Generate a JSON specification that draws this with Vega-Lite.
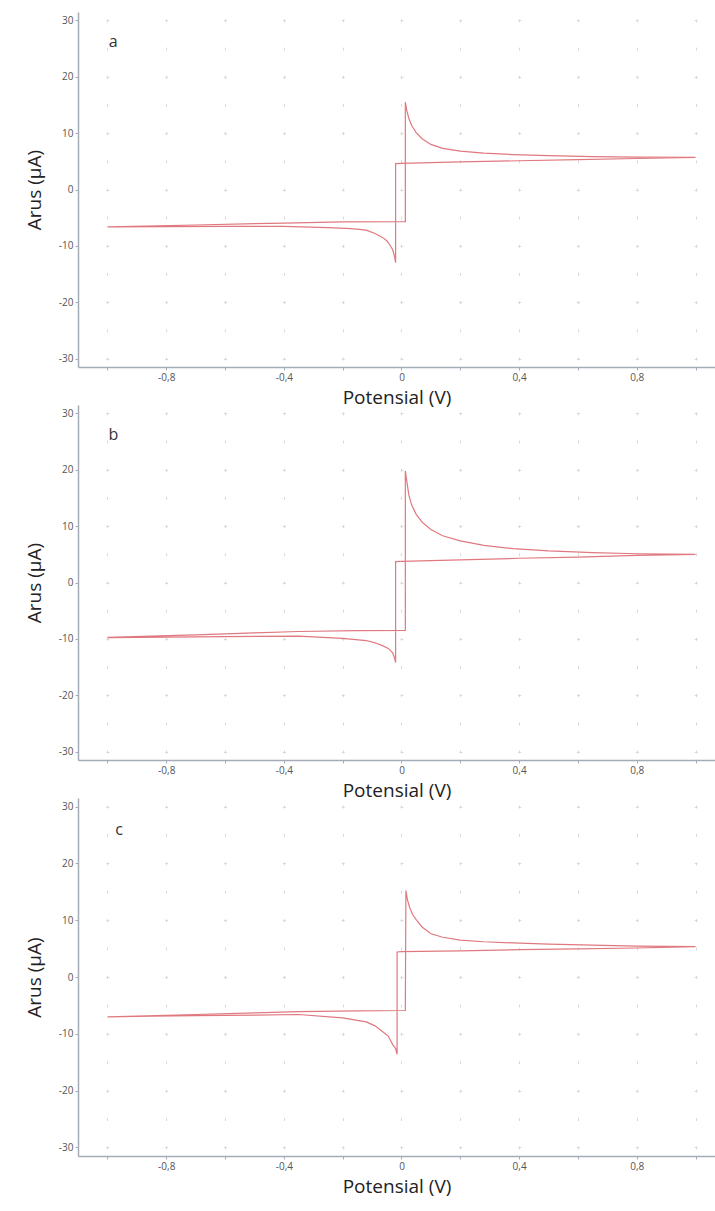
{
  "$schema": "https://vega.github.io/schema/vega-lite/v6.json",
  "padding": {"left": 25, "top": 12, "right": 0, "bottom": 2},
  "background": "white",
  "bounds": "flush",
  "spacing": 38,
  "datasets": {
    "a": [
      {"i": 0, "v": -1.0, "a": -6.65}, {"i": 1, "v": -0.7, "a": -6.3}, {"i": 2, "v": -0.4, "a": -5.95}, {"i": 3, "v": -0.2, "a": -5.75}, {"i": 4, "v": 0.013, "a": -5.7},
      {"i": 5, "v": 0.013, "a": 15.5}, {"i": 6, "v": 0.018, "a": 14.0}, {"i": 7, "v": 0.025, "a": 12.6}, {"i": 8, "v": 0.035, "a": 11.3}, {"i": 9, "v": 0.05, "a": 10.1},
      {"i": 10, "v": 0.07, "a": 9.0}, {"i": 11, "v": 0.1, "a": 8.0}, {"i": 12, "v": 0.14, "a": 7.3}, {"i": 13, "v": 0.2, "a": 6.8}, {"i": 14, "v": 0.28, "a": 6.45},
      {"i": 15, "v": 0.38, "a": 6.2}, {"i": 16, "v": 0.5, "a": 6.0}, {"i": 17, "v": 0.65, "a": 5.85}, {"i": 18, "v": 0.8, "a": 5.75}, {"i": 19, "v": 1.0, "a": 5.7},
      {"i": 20, "v": 0.8, "a": 5.5}, {"i": 21, "v": 0.6, "a": 5.3}, {"i": 22, "v": 0.4, "a": 5.1}, {"i": 23, "v": 0.2, "a": 4.9}, {"i": 24, "v": 0.0, "a": 4.65}, {"i": 25, "v": -0.02, "a": 4.6},
      {"i": 26, "v": -0.02, "a": -13.0}, {"i": 27, "v": -0.024, "a": -11.8}, {"i": 28, "v": -0.03, "a": -10.7}, {"i": 29, "v": -0.04, "a": -9.8}, {"i": 30, "v": -0.05, "a": -9.1},
      {"i": 31, "v": -0.065, "a": -8.5}, {"i": 32, "v": -0.09, "a": -7.8}, {"i": 33, "v": -0.12, "a": -7.2}, {"i": 34, "v": -0.17, "a": -6.95}, {"i": 35, "v": -0.25, "a": -6.75},
      {"i": 36, "v": -0.4, "a": -6.55}, {"i": 37, "v": -0.6, "a": -6.55}, {"i": 38, "v": -0.8, "a": -6.6}, {"i": 39, "v": -1.0, "a": -6.65}
    ],
    "b": [
      {"i": 0, "v": -1.0, "a": -9.75}, {"i": 1, "v": -0.7, "a": -9.3}, {"i": 2, "v": -0.5, "a": -8.95}, {"i": 3, "v": -0.35, "a": -8.7}, {"i": 4, "v": -0.15, "a": -8.55}, {"i": 5, "v": 0.013, "a": -8.5},
      {"i": 6, "v": 0.013, "a": 19.8}, {"i": 7, "v": 0.018, "a": 18.0}, {"i": 8, "v": 0.025, "a": 15.5}, {"i": 9, "v": 0.035, "a": 13.7}, {"i": 10, "v": 0.05, "a": 12.1},
      {"i": 11, "v": 0.07, "a": 10.7}, {"i": 12, "v": 0.1, "a": 9.4}, {"i": 13, "v": 0.14, "a": 8.3}, {"i": 14, "v": 0.2, "a": 7.4}, {"i": 15, "v": 0.28, "a": 6.6},
      {"i": 16, "v": 0.38, "a": 6.0}, {"i": 17, "v": 0.5, "a": 5.6}, {"i": 18, "v": 0.65, "a": 5.3}, {"i": 19, "v": 0.8, "a": 5.1}, {"i": 20, "v": 1.0, "a": 5.0},
      {"i": 21, "v": 0.8, "a": 4.8}, {"i": 22, "v": 0.6, "a": 4.5}, {"i": 23, "v": 0.4, "a": 4.3}, {"i": 24, "v": 0.2, "a": 4.0}, {"i": 25, "v": 0.0, "a": 3.75}, {"i": 26, "v": -0.02, "a": 3.7},
      {"i": 27, "v": -0.02, "a": -14.2}, {"i": 28, "v": -0.024, "a": -13.3}, {"i": 29, "v": -0.03, "a": -12.5}, {"i": 30, "v": -0.045, "a": -11.7}, {"i": 31, "v": -0.065, "a": -11.2},
      {"i": 32, "v": -0.09, "a": -10.7}, {"i": 33, "v": -0.12, "a": -10.3}, {"i": 34, "v": -0.2, "a": -9.9}, {"i": 35, "v": -0.35, "a": -9.5}, {"i": 36, "v": -0.6, "a": -9.6},
      {"i": 37, "v": -0.8, "a": -9.7}, {"i": 38, "v": -1.0, "a": -9.8}
    ],
    "c": [
      {"i": 0, "v": -1.0, "a": -7.0}, {"i": 1, "v": -0.7, "a": -6.6}, {"i": 2, "v": -0.5, "a": -6.3}, {"i": 3, "v": -0.35, "a": -6.1}, {"i": 4, "v": -0.15, "a": -5.95}, {"i": 5, "v": 0.013, "a": -5.9},
      {"i": 6, "v": 0.015, "a": 15.2}, {"i": 7, "v": 0.02, "a": 13.6}, {"i": 8, "v": 0.028, "a": 12.2}, {"i": 9, "v": 0.038, "a": 11.0}, {"i": 10, "v": 0.05, "a": 10.1},
      {"i": 11, "v": 0.07, "a": 8.8}, {"i": 12, "v": 0.1, "a": 7.6}, {"i": 13, "v": 0.14, "a": 7.0}, {"i": 14, "v": 0.2, "a": 6.5}, {"i": 15, "v": 0.28, "a": 6.2},
      {"i": 16, "v": 0.38, "a": 6.0}, {"i": 17, "v": 0.5, "a": 5.8}, {"i": 18, "v": 0.65, "a": 5.6}, {"i": 19, "v": 0.8, "a": 5.45}, {"i": 20, "v": 1.0, "a": 5.35},
      {"i": 21, "v": 0.8, "a": 5.1}, {"i": 22, "v": 0.6, "a": 4.95}, {"i": 23, "v": 0.4, "a": 4.8}, {"i": 24, "v": 0.2, "a": 4.6}, {"i": 25, "v": 0.0, "a": 4.45}, {"i": 26, "v": -0.015, "a": 4.4},
      {"i": 27, "v": -0.015, "a": -13.6}, {"i": 28, "v": -0.02, "a": -12.6}, {"i": 29, "v": -0.03, "a": -11.9}, {"i": 30, "v": -0.045, "a": -10.4}, {"i": 31, "v": -0.065, "a": -9.6},
      {"i": 32, "v": -0.09, "a": -8.6}, {"i": 33, "v": -0.12, "a": -7.9}, {"i": 34, "v": -0.2, "a": -7.2}, {"i": 35, "v": -0.35, "a": -6.6}, {"i": 36, "v": -0.5, "a": -6.7},
      {"i": 37, "v": -0.7, "a": -6.8}, {"i": 38, "v": -0.85, "a": -6.9}, {"i": 39, "v": -1.0, "a": -7.0}
    ]
  },
  "vconcat": [
    {
      "width": 637, "height": 355,
      "layer": [
        {
          "data": {"name": "a"},
          "mark": {"type": "line", "color": "#e0787f", "strokeWidth": 1.2},
          "encoding": {
            "x": {"field": "v", "type": "quantitative", "scale": {"domain": [-1.1, 1.066], "nice": false, "zero": false},
                  "axis": {"title": "Potensial (V)", "values": [-1, -0.8, -0.6, -0.4, -0.2, 0, 0.2, 0.4, 0.6, 0.8, 1],
                           "gridDash": [3, 25.17], "gridDashOffset": 21.22,
                           "labelExpr": "abs(round(datum.value*10)) % 4 == 0 ? (datum.value == 0 ? '0' : (datum.value < 0 ? '-' : '') + '0,' + abs(round(datum.value*10))) : ''"}},
            "y": {"field": "a", "type": "quantitative", "scale": {"domain": [-31.5, 31.5], "nice": false},
                  "axis": {"title": "Arus (µA)", "values": [-30, -25, -20, -15, -10, -5, 0, 5, 10, 15, 20, 25, 30],
                           "labelExpr": "datum.value % 10 == 0 ? '' + datum.value : ''"}},
            "order": {"field": "i", "type": "quantitative"}
          }
        },
        {
          "data": {"values": [{"label": "a"}]},
          "mark": {"type": "text", "font": "Open Sans", "fontSize": 16, "color": "#333"},
          "encoding": {"x": {"datum": -0.98}, "y": {"datum": 26.2}, "text": {"field": "label"}}
        }
      ]
    },
    {
      "width": 637, "height": 355,
      "layer": [
        {
          "data": {"name": "b"},
          "mark": {"type": "line", "color": "#e0787f", "strokeWidth": 1.2},
          "encoding": {
            "x": {"field": "v", "type": "quantitative", "scale": {"domain": [-1.1, 1.066], "nice": false, "zero": false},
                  "axis": {"title": "Potensial (V)", "values": [-1, -0.8, -0.6, -0.4, -0.2, 0, 0.2, 0.4, 0.6, 0.8, 1],
                           "gridDash": [3, 25.17], "gridDashOffset": 21.22,
                           "labelExpr": "abs(round(datum.value*10)) % 4 == 0 ? (datum.value == 0 ? '0' : (datum.value < 0 ? '-' : '') + '0,' + abs(round(datum.value*10))) : ''"}},
            "y": {"field": "a", "type": "quantitative", "scale": {"domain": [-31.5, 31.5], "nice": false},
                  "axis": {"title": "Arus (µA)", "values": [-30, -25, -20, -15, -10, -5, 0, 5, 10, 15, 20, 25, 30],
                           "labelExpr": "datum.value % 10 == 0 ? '' + datum.value : ''"}},
            "order": {"field": "i", "type": "quantitative"}
          }
        },
        {
          "data": {"values": [{"label": "b"}]},
          "mark": {"type": "text", "font": "Open Sans", "fontSize": 16, "color": "#333"},
          "encoding": {"x": {"datum": -0.98}, "y": {"datum": 26.2}, "text": {"field": "label"}}
        }
      ]
    },
    {
      "width": 637, "height": 358,
      "layer": [
        {
          "data": {"name": "c"},
          "mark": {"type": "line", "color": "#e0787f", "strokeWidth": 1.2},
          "encoding": {
            "x": {"field": "v", "type": "quantitative", "scale": {"domain": [-1.1, 1.066], "nice": false, "zero": false},
                  "axis": {"title": "Potensial (V)", "values": [-1, -0.8, -0.6, -0.4, -0.2, 0, 0.2, 0.4, 0.6, 0.8, 1],
                           "gridDash": [3, 25.41], "gridDashOffset": 21.39,
                           "labelExpr": "abs(round(datum.value*10)) % 4 == 0 ? (datum.value == 0 ? '0' : (datum.value < 0 ? '-' : '') + '0,' + abs(round(datum.value*10))) : ''"}},
            "y": {"field": "a", "type": "quantitative", "scale": {"domain": [-31.5, 31.5], "nice": false},
                  "axis": {"title": "Arus (µA)", "values": [-30, -25, -20, -15, -10, -5, 0, 5, 10, 15, 20, 25, 30],
                           "labelExpr": "datum.value % 10 == 0 ? '' + datum.value : ''"}},
            "order": {"field": "i", "type": "quantitative"}
          }
        },
        {
          "data": {"values": [{"label": "c"}]},
          "mark": {"type": "text", "font": "Open Sans", "fontSize": 16, "color": "#333"},
          "encoding": {"x": {"datum": -0.96}, "y": {"datum": 25.9}, "text": {"field": "label"}}
        }
      ]
    }
  ],
  "config": {
    "view": {"stroke": null},
    "axis": {
      "domainColor": "#a4acb8", "domainWidth": 1.5,
      "tickColor": "#a4acb8", "tickSize": 3,
      "labelFont": "Open Sans", "labelFontSize": 10, "labelColor": "#555", "labelPadding": 2,
      "titleFont": "Open Sans", "titleFontSize": 19, "titleFontWeight": "normal", "titleColor": "#222",
      "grid": true, "gridColor": "#d8d8d8", "gridWidth": 1
    },
    "axisX": {"titlePadding": 6},
    "axisY": {"gridDash": [3, 55.82], "gridDashOffset": 30.91, "titlePadding": 14}
  }
}
